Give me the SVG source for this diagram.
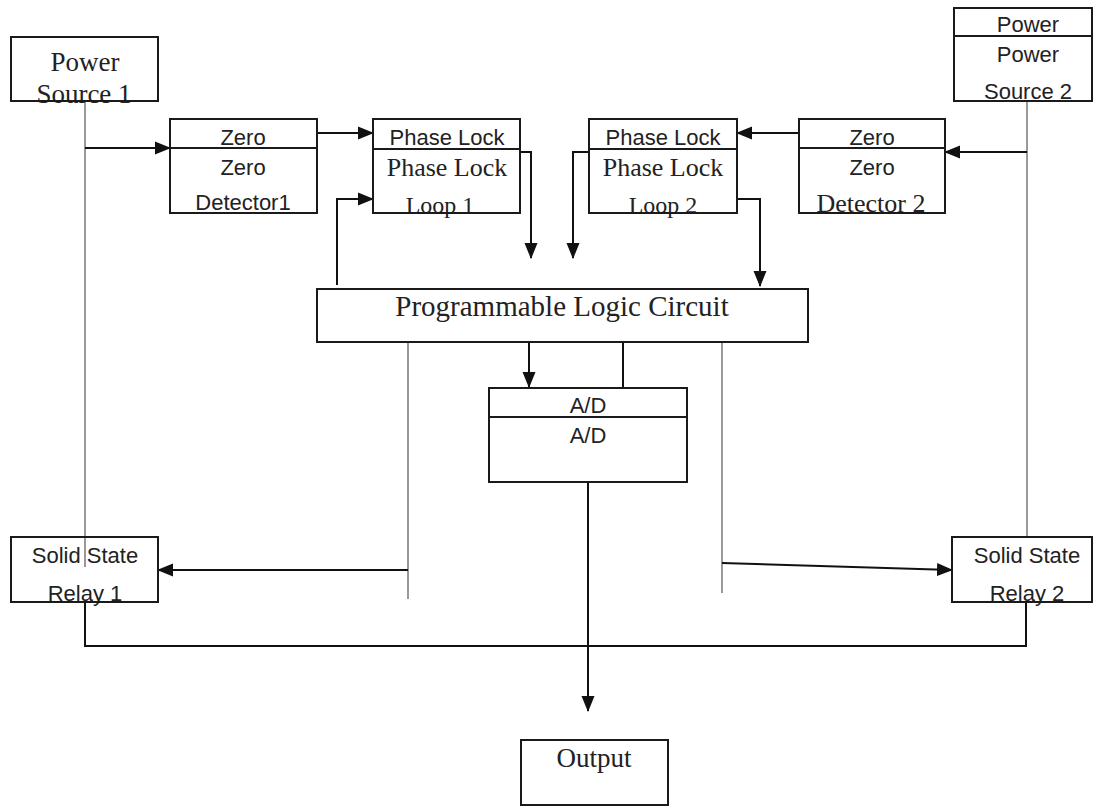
<svg xmlns="http://www.w3.org/2000/svg" width="1093" height="806" viewBox="0 0 1093 806">
<style>
.box{fill:none;stroke:#1a1a1a;stroke-width:2}
.div{stroke:#1a1a1a;stroke-width:2}
.sans{font-family:"Liberation Sans",Arial,sans-serif;font-size:22px;fill:#222;text-anchor:middle}
.serif{font-family:"Liberation Serif","Times New Roman",serif;fill:#222;text-anchor:middle}
.c{fill:none;stroke:#111;stroke-width:2}
.g{fill:none;stroke:#777;stroke-width:1.5}
</style>
<defs>
<marker id="ah" markerUnits="userSpaceOnUse" markerWidth="16" markerHeight="16" viewBox="0 0 16 16" refX="15" refY="8" orient="auto">
<path d="M0,1.5 L16,8 L0,14.5 Z" fill="#111"/>
</marker>
</defs>
<rect width="1093" height="806" fill="#fff"/>

<g id="connectors">
<line class="g" x1="85" y1="101" x2="85" y2="567"/>
<line class="c" x1="85" y1="148" x2="170" y2="148" marker-end="url(#ah)"/>
<line class="c" x1="317" y1="133" x2="373" y2="133" marker-end="url(#ah)"/>
<polyline class="c" points="520,152 531,152 531,258" marker-end="url(#ah)"/>
<polyline class="c" points="337,285 337,199 373,199" marker-end="url(#ah)"/>
<line class="g" x1="1027" y1="101" x2="1027" y2="537"/>
<line class="c" x1="1027" y1="152" x2="945" y2="152" marker-end="url(#ah)"/>
<line class="c" x1="799" y1="133" x2="737" y2="133" marker-end="url(#ah)"/>
<polyline class="c" points="589,152 573,152 573,258" marker-end="url(#ah)"/>
<polyline class="c" points="737,199 760,199 760,286" marker-end="url(#ah)"/>
<line class="c" x1="529" y1="342" x2="529" y2="387" marker-end="url(#ah)"/>
<line class="c" x1="623" y1="342" x2="623" y2="388"/>
<line class="g" x1="408" y1="342" x2="408" y2="599"/>
<line class="g" x1="722" y1="342" x2="722" y2="593"/>
<line class="c" x1="408" y1="570" x2="158" y2="570" marker-end="url(#ah)"/>
<line class="c" x1="722" y1="563" x2="952" y2="570" marker-end="url(#ah)"/>
<polyline class="c" points="85,602 85,646 1026,646 1026,602"/>
<line class="c" x1="588" y1="482" x2="588" y2="711" marker-end="url(#ah)"/>
</g>

<g id="power-source-1">
<text class="serif" x="85" y="71" font-size="27">Power</text>
<text class="serif" x="84" y="103" font-size="27">Source 1</text>
<rect class="box" x="11" y="37" width="147" height="64"/>
</g>

<g id="zero-detector-1">
<text class="sans" x="243" y="145">Zero</text>
<text class="sans" x="243" y="175">Zero</text>
<text class="sans" x="243" y="210">Detector1</text>
<rect class="box" x="170" y="119" width="147" height="94"/>
<line class="div" x1="170" y1="148" x2="317" y2="148"/>
</g>

<g id="phase-lock-loop-1">
<text class="sans" x="447" y="145">Phase Lock</text>
<text class="serif" x="447" y="176" font-size="26">Phase Lock</text>
<text class="serif" x="440" y="213" font-size="24">Loop 1</text>
<rect class="box" x="373" y="119" width="147" height="94"/>
<line class="div" x1="373" y1="149" x2="520" y2="149"/>
</g>

<g id="phase-lock-loop-2">
<text class="sans" x="663" y="145">Phase Lock</text>
<text class="serif" x="663" y="176" font-size="26">Phase Lock</text>
<text class="serif" x="663" y="213" font-size="24">Loop 2</text>
<rect class="box" x="589" y="119" width="148" height="94"/>
<line class="div" x1="589" y1="149" x2="737" y2="149"/>
</g>

<g id="zero-detector-2">
<text class="sans" x="872" y="145">Zero</text>
<text class="sans" x="872" y="175">Zero</text>
<text class="serif" x="871" y="212" font-size="26">Detector 2</text>
<rect class="box" x="799" y="119" width="146" height="94"/>
<line class="div" x1="799" y1="148" x2="945" y2="148"/>
</g>

<g id="power-source-2">
<text class="sans" x="1028" y="32">Power</text>
<text class="sans" x="1028" y="62">Power</text>
<text class="sans" x="1028" y="99">Source 2</text>
<rect class="box" x="954" y="8" width="138" height="93"/>
<line class="div" x1="954" y1="36" x2="1092" y2="36"/>
</g>

<g id="programmable-logic-circuit">
<rect class="box" x="317" y="289" width="491" height="53"/>
<text class="serif" x="562" y="316" font-size="29">Programmable Logic Circuit</text>
</g>

<g id="a-d">
<text class="sans" x="588" y="413">A/D</text>
<text class="sans" x="588" y="443">A/D</text>
<rect class="box" x="489" y="388" width="198" height="94"/>
<line class="div" x1="489" y1="417" x2="687" y2="417"/>
</g>

<g id="solid-state-relay-1">
<text class="sans" x="85" y="563">Solid State</text>
<text class="sans" x="85" y="601">Relay 1</text>
<rect class="box" x="11" y="537" width="147" height="65"/>
</g>

<g id="solid-state-relay-2">
<text class="sans" x="1027" y="563">Solid State</text>
<text class="sans" x="1027" y="601">Relay 2</text>
<rect class="box" x="952" y="537" width="140" height="65"/>
</g>

<g id="output">
<rect class="box" x="521" y="740" width="147" height="65"/>
<text class="serif" x="594" y="767" font-size="27">Output</text>
</g>
</svg>
